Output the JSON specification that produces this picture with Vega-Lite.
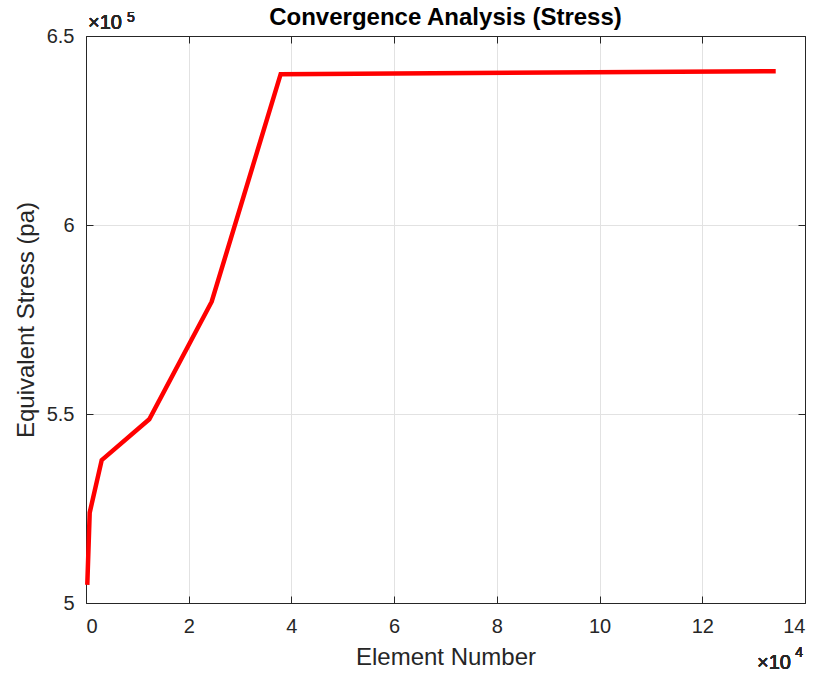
{
  "$schema": "https://vega.github.io/schema/vega-lite/v6.json",
  "autosize": {"type": "none"},
  "padding": {"left": 86, "top": 36, "right": 14, "bottom": 72},
  "width": 719,
  "height": 567,
  "background": "white",
  "config": {
    "font": "Liberation Sans",
    "view": {"stroke": null},
    "axis": {
      "domainColor": "#262626",
      "domainWidth": 1,
      "tickColor": "#262626",
      "tickSize": -7,
      "tickWidth": 1,
      "labelColor": "#262626",
      "labelFontSize": 20,
      "titleColor": "#262626",
      "titleFontSize": 24,
      "titleFontWeight": "normal",
      "gridColor": "#e2e2e2",
      "gridWidth": 1
    }
  },
  "title": {
    "text": "Convergence Analysis (Stress)",
    "fontSize": 24,
    "fontWeight": "bold",
    "color": "#000000",
    "anchor": "middle",
    "baseline": "alphabetic",
    "offset": 0,
    "dy": 38
  },
  "data": {
    "values": [
      {"elements": 250, "stress": 504800},
      {"elements": 720, "stress": 523900},
      {"elements": 3060, "stress": 537800},
      {"elements": 12320, "stress": 548600},
      {"elements": 24470, "stress": 579700},
      {"elements": 37900, "stress": 639900},
      {"elements": 134300, "stress": 640700}
    ]
  },
  "layer": [
    {
      "mark": {"type": "line", "color": "#ff0000", "strokeWidth": 4.5},
      "encoding": {
        "x": {
          "field": "elements",
          "type": "quantitative",
          "scale": {"domain": [0, 140000], "nice": false, "zero": false},
          "axis": {
            "orient": "bottom",
            "values": [0, 20000, 40000, 60000, 80000, 100000, 120000, 140000],
            "labelExpr": "datum.value / 10000",
            "labelPadding": 20,
            "title": "Element Number",
            "titlePadding": 9,
            "grid": true
          }
        },
        "y": {
          "field": "stress",
          "type": "quantitative",
          "scale": {"domain": [500000, 650000], "nice": false, "zero": false},
          "axis": {
            "orient": "left",
            "values": [500000, 550000, 600000, 650000],
            "labelExpr": "datum.value / 100000",
            "labelPadding": 19,
            "title": "Equivalent Stress (pa)",
            "titlePadding": 8,
            "grid": true
          }
        }
      }
    },
    {
      "mark": {"type": "line", "opacity": 0},
      "encoding": {
        "x": {
          "field": "elements",
          "type": "quantitative",
          "axis": {
            "orient": "top",
            "values": [0, 20000, 40000, 60000, 80000, 100000, 120000, 140000],
            "labels": false,
            "title": null,
            "grid": false
          }
        },
        "y": {
          "field": "stress",
          "type": "quantitative",
          "axis": {
            "orient": "right",
            "values": [500000, 550000, 600000, 650000],
            "labels": false,
            "title": null,
            "grid": false
          }
        }
      }
    },
    {
      "mark": {"type": "text", "align": "left", "baseline": "alphabetic", "dx": 2, "dy": -7, "fontSize": 20, "fontWeight": "normal", "color": "#262626"},
      "encoding": {
        "x": {"datum": 0, "type": "quantitative", "axis": null},
        "y": {"datum": 650000, "type": "quantitative", "axis": null},
        "text": {"value": "×10"}
      }
    },
    {
      "mark": {"type": "text", "align": "left", "baseline": "alphabetic", "dx": 41, "dy": -14, "fontSize": 14, "fontWeight": "normal", "color": "#262626"},
      "encoding": {
        "x": {"datum": 0, "type": "quantitative", "axis": null},
        "y": {"datum": 650000, "type": "quantitative", "axis": null},
        "text": {"value": "5"}
      }
    },
    {
      "mark": {"type": "text", "align": "right", "baseline": "alphabetic", "dx": -14, "dy": 66, "fontSize": 20, "fontWeight": "normal", "color": "#262626"},
      "encoding": {
        "x": {"datum": 140000, "type": "quantitative", "axis": null},
        "y": {"datum": 500000, "type": "quantitative", "axis": null},
        "text": {"value": "×10"}
      }
    },
    {
      "mark": {"type": "text", "align": "right", "baseline": "alphabetic", "dx": -2, "dy": 54, "fontSize": 14, "fontWeight": "normal", "color": "#262626"},
      "encoding": {
        "x": {"datum": 140000, "type": "quantitative", "axis": null},
        "y": {"datum": 500000, "type": "quantitative", "axis": null},
        "text": {"value": "4"}
      }
    }
  ],
  "resolve": {"axis": {"x": "independent", "y": "independent"}}
}
